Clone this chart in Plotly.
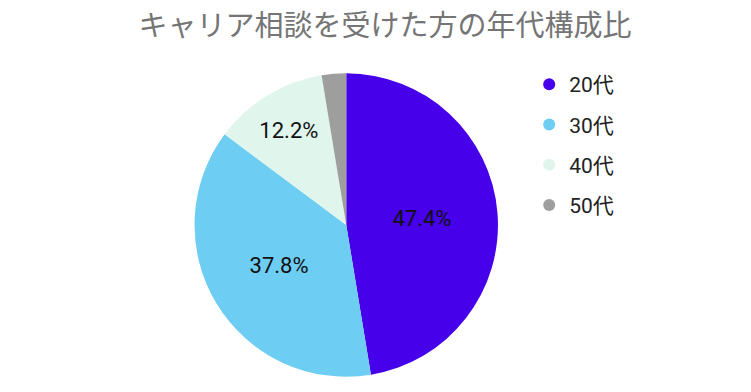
import plotly.graph_objects as go

categories = ["20代", "30代", "40代", "50代"]
values = [47.4, 37.8, 12.2, 2.6]
slice_labels = ["47.4%", "37.8%", "12.2%", ""]
colors = ["#4600EA", "#6DCDF2", "#E0F5EB", "#9E9E9E"]
title_text = "キャリア相談を受けた方の年代構成比"

FONT = "Roboto, 'Noto Sans CJK JP', sans-serif"

fig = go.Figure()
fig.add_trace(go.Pie(
    labels=categories, values=values, text=slice_labels,
    texttemplate="%{text}", textposition="inside",
    insidetextorientation="horizontal",
    textfont=dict(family=FONT, size=22, color="#111111"),
    marker=dict(colors=colors, line=dict(width=0)),
    sort=False, direction="clockwise", rotation=0,
    showlegend=False, hoverinfo="label+percent",
    domain=dict(x=[0.2484, 0.6524], y=[0.0561, 0.8367]),
))
for i, (c, col) in enumerate(zip(categories, colors)):
    fig.add_trace(go.Scatter(
        x=[None], y=[None], mode="markers", name=c,
        marker=dict(symbol="circle", size=11, color=col),
        legendgroup=f"g{i}", showlegend=True,
    ))

fig.update_layout(
    width=751, height=392,
    margin=dict(l=0, r=0, t=0, b=0),
    paper_bgcolor="white", plot_bgcolor="white",
    title=dict(text=title_text, x=0.502, xanchor="center", y=0.955, yanchor="middle",
               font=dict(family=FONT, size=29, color="#757575")),
    xaxis=dict(visible=False), yaxis=dict(visible=False),
    legend=dict(x=0.694, xanchor="left", y=0.857, yanchor="top",
                font=dict(family=FONT, size=21, color="#222222"),
                tracegroupgap=10, itemsizing="constant",
                bgcolor="rgba(0,0,0,0)"),
)
fig.write_html("out.html")
